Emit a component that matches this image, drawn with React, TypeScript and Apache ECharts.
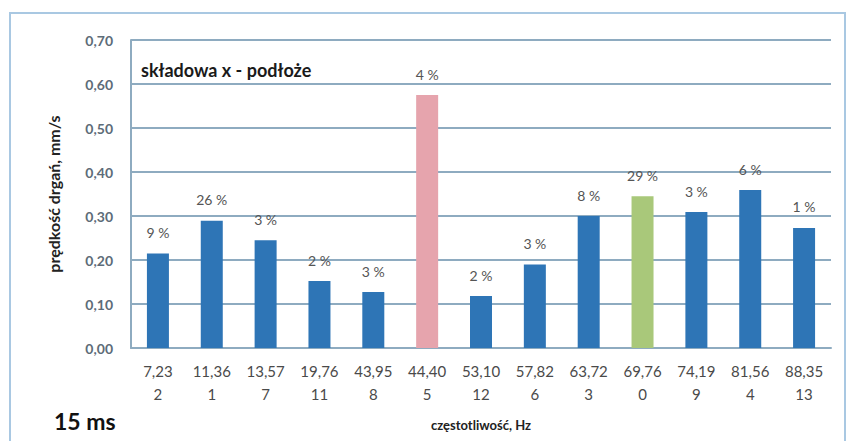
import React, { useEffect, useRef } from "react";
import * as echarts from "echarts";

const frequencies = ["7,23", "11,36", "13,57", "19,76", "43,95", "44,40", "53,10", "57,82", "63,72", "69,76", "74,19", "81,56", "88,35"];
const indices = ["2", "1", "7", "11", "8", "5", "12", "6", "3", "0", "9", "4", "13"];
const velocities = [0.215, 0.289, 0.245, 0.152, 0.127, 0.575, 0.118, 0.19, 0.3, 0.345, 0.309, 0.359, 0.273];
const shares = ["9 %", "26 %", "3 %", "2 %", "3 %", "4 %", "2 %", "3 %", "8 %", "29 %", "3 %", "6 %", "1 %"];
const barColors = ["#2e75b6", "#2e75b6", "#2e75b6", "#2e75b6", "#2e75b6", "#e6a4ad", "#2e75b6", "#2e75b6", "#2e75b6", "#a9c87a", "#2e75b6", "#2e75b6", "#2e75b6"];

const FONT = "Lato, 'Open Sans', sans-serif";

export default function App() {
  const ref = useRef<HTMLDivElement>(null);
  useEffect(() => {
    if (!ref.current) return;
    const chart = echarts.init(ref.current, null, { renderer: "svg" });
    chart.setOption({
      animation: false,
      backgroundColor: "#ffffff",
      textStyle: { fontFamily: FONT },
      grid: { left: 131, right: 17, top: 40, bottom: 93 },
      graphic: [
        {
          type: "rect",
          shape: { x: 10, y: 13, width: 835, height: 440 },
          style: { fill: "none", stroke: "#a9c8e2", lineWidth: 2 },
        },
        {
          type: "text",
          x: 141,
          y: 70,
          style: { text: "składowa x - podłoże", font: `bold 18px ${FONT}`, fill: "#1a1a1a", verticalAlign: "middle" },
        },
        {
          type: "text",
          x: 54,
          y: 421,
          style: { text: "15 ms", font: `bold 23px ${FONT}`, fill: "#111111", verticalAlign: "middle" },
        },
      ],
      xAxis: {
        type: "category",
        data: frequencies.map((f, i) => f + "\n" + indices[i]),
        name: "częstotliwość, Hz",
        nameLocation: "middle",
        nameGap: 70,
        nameTextStyle: { fontFamily: FONT, fontWeight: "bold", fontSize: 13, color: "#222" },
        axisLine: { lineStyle: { color: "#8eabc0", width: 2 } },
        axisTick: { show: false },
        axisLabel: { fontFamily: FONT, fontSize: 15, color: "#4a4a4a", lineHeight: 23, margin: 11, interval: 0 },
      },
      yAxis: {
        type: "value",
        min: 0,
        max: 0.7,
        interval: 0.1,
        name: "prędkość drgań, mm/s",
        nameLocation: "middle",
        nameGap: 70,
        nameRotate: 90,
        nameTextStyle: { fontFamily: FONT, fontWeight: "bold", fontSize: 16, color: "#222" },
        axisLine: { show: true, lineStyle: { color: "#8eabc0", width: 2 } },
        axisTick: { show: false },
        splitLine: { lineStyle: { color: "#8eabc0", width: 2 } },
        axisLabel: {
          fontFamily: FONT,
          fontSize: 14,
          fontWeight: "bold",
          color: "#5d6c78",
          margin: 18,
          formatter: (v: number) => v.toFixed(2).replace(".", ","),
        },
      },
      series: [
        {
          type: "bar",
          barWidth: 22,
          data: velocities.map((v, i) => ({ value: v, itemStyle: { color: barColors[i] } })),
          label: {
            show: true,
            position: "top",
            distance: 14,
            fontFamily: FONT,
            fontSize: 14,
            color: "#555",
            formatter: (p: any) => shares[p.dataIndex],
          },
        },
      ],
    });
    return () => chart.dispose();
  }, []);
  return <div ref={ref} style={{ position: "fixed", left: 0, top: 0, width: 848, height: 441 }} />;
}
